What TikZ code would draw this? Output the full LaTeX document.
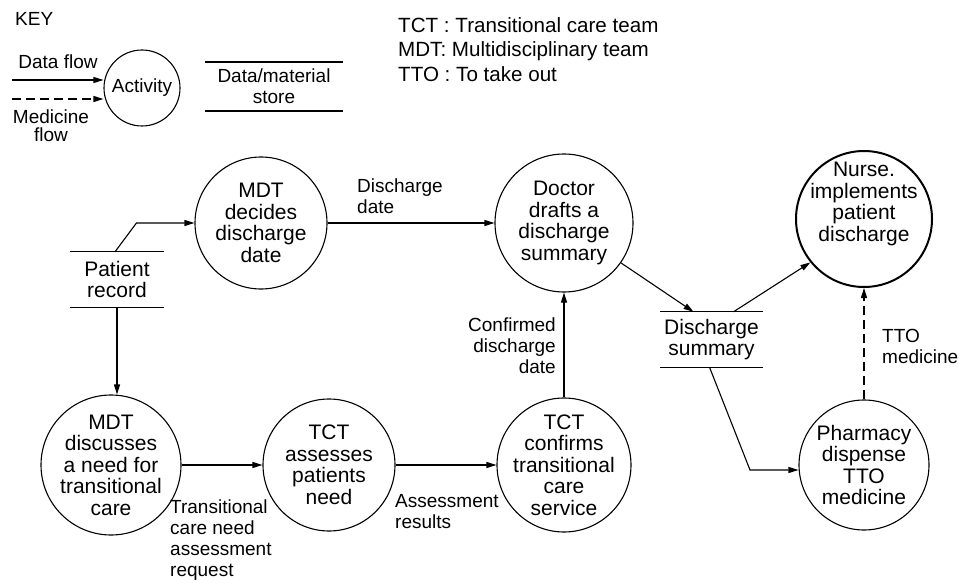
\documentclass[tikz,border=0pt]{standalone}
\usepackage{fontspec}
\setmainfont{Liberation Sans}
\usepackage{tikz}
\usetikzlibrary{arrows.meta,calc,positioning}

\begin{document}
\begin{tikzpicture}[x=1pt,y=-1pt,
        activity/.style={circle,draw,line width=1.1pt,inner sep=-8pt,
          minimum size=#1,align=center,font=\fontsize{21}{21.5}\selectfont},
        store/.style 2 args={inner sep=0pt,minimum width=#1,minimum height=55pt,
          align=center,font=\fontsize{21}{21.5}\selectfont,
          append after command={(\tikzlastnode.north west) edge[line width=#2] (\tikzlastnode.north east)
            (\tikzlastnode.south west) edge[line width=#2] (\tikzlastnode.south east)}},
        flow/.style={line width=1.1pt,-{Triangle[length=10pt,width=6pt]}},
        medflow/.style={flow,dash pattern=on 9pt off 5pt},
        flowlabel/.style={inner sep=0pt,font=\fontsize{19}{21}\selectfont},
        keytext/.style={inner sep=0pt,font=\fontsize{19}{18}\selectfont},
        legendtext/.style={inner sep=0pt,anchor=base west,font=\fontsize{20.6}{24}\selectfont}]
        \useasboundingbox (0,0) rectangle (959,583);
        \node[keytext,anchor=base west] (key) at (15,26) {KEY};
        \node[keytext] (dflab) at (58,62) {Data flow};
        \node[activity=76pt,font=\fontsize{19}{21}\selectfont] (act) at (142,88) {Activity};
        \coordinate (dfstart) at (12,80);
        \coordinate (mfstart) at (12,99);
        \draw[flow] (dfstart) -- (dfstart -| act.west);
        \draw[medflow] (mfstart) -- (mfstart -| act.west);
        \node[keytext,align=center] (mflab) at (51,126) {Medicine\\flow};
        \node[store={138pt}{1.8pt},minimum height=49pt,font=\fontsize{19}{21}\selectfont]
          (keystore) at (274,86.5) {Data/material\\store};
        \node[legendtext] (tctdef) at (398,33) {TCT : Transitional care team};
        \node[legendtext] (mdtdef) at (398,57) {MDT: Multidisciplinary team};
        \node[legendtext] (ttodef) at (398,82) {TTO : To take out};

        \node[activity=132pt] (mdtdec) at (261,223) {MDT\\decides\\discharge\\date};
        \node[activity=138pt] (doctor) at (564,223) {Doctor\\drafts a\\discharge\\summary};
        \node[activity=136pt,line width=2pt,
          label={[inner sep=0pt,align=center,font=\fontsize{21}{21.5}\selectfont,yshift=15pt]center:{Nurse.\\implements\\patient\\discharge}}]
          (nurse) at (864,219) {};
        \node[store={94pt}{1.2pt}] (prec) at (117,279.5) {Patient\\record};
        \node[activity=140pt] (mdtdis) at (111,465) {MDT\\discusses\\a need for\\transitional\\care};
        \node[activity=132pt] (tctass) at (329,465) {TCT\\assesses\\patients\\need};
        \node[activity=134pt] (tctcon) at (564,465) {TCT\\confirms\\transitional\\care\\service};
        \node[store={103pt}{1.2pt}] (dsum) at (711.5,339.5) {Discharge\\summary};
        \node[activity=130pt] (pharm) at (864,465) {Pharmacy\\dispense\\TTO\\medicine};

        \draw[flow] ([xshift=-2pt]prec.north) -- ([xshift=-58pt]mdtdec.west) -- (mdtdec.west);
        \draw[flow] (mdtdec) -- (doctor);
        \node[flowlabel,anchor=west,align=left] (ddlab) at (357,196) {Discharge\\date};
        \draw[flow] (prec.south) -- (prec.south |- mdtdis.north);
        \draw[flow] (mdtdis) -- (tctass);
        \node[flowlabel,anchor=west,align=left] (reqlab) at (170,540) {Transitional\\care need\\assessment\\request};
        \draw[flow] (tctass) -- (tctcon);
        \node[flowlabel,anchor=west,align=left] (reslab) at (395,512) {Assessment\\results};
        \draw[flow] (tctcon) -- (doctor);
        \node[flowlabel,anchor=east,align=right] (cdlab) at (556,346) {Confirmed\\discharge\\date};
        \draw[flow] (doctor.-35) -- ([xshift=-18pt]dsum.north);
        \draw[flow] ([xshift=22pt]dsum.north) -- (nurse.219);
        \coordinate (bend) at (750,470);
        \draw[flow] ([xshift=-2pt]dsum.south) -- (bend) -- (bend -| pharm.west);
        \draw[medflow] (pharm) -- (nurse);
        \node[flowlabel,anchor=west,align=left] (ttolab) at (882,346) {TTO\\medicine};
      \end{tikzpicture}
\end{document}
